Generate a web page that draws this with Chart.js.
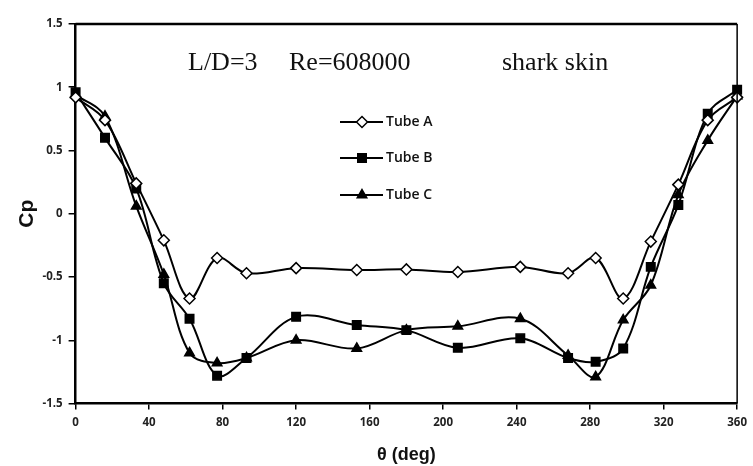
<!DOCTYPE html>
<html>
<head>
<meta charset="utf-8">
<script src="https://cdn.jsdelivr.net/npm/chart.js@4.4.1/dist/chart.umd.min.js"></script>
<style>
  body { margin: 0; background: #fff; }
</style>
</head>
<body>
<canvas id="cpChart" width="753" height="466"></canvas>
<script>
// pressure tap angles (deg) and Cp for each tube
const angles = [0, 16, 33, 48, 62, 77, 93, 120, 153, 180, 208, 242, 268, 283, 298, 313, 328, 344, 360];
const tubeA = [0.92, 0.74, 0.24, -0.21, -0.67, -0.35, -0.47, -0.43, -0.445, -0.44, -0.46, -0.42, -0.47, -0.35, -0.67, -0.22, 0.23, 0.74, 0.92];
const tubeB = [0.96, 0.60, 0.20, -0.55, -0.83, -1.28, -1.14, -0.815, -0.88, -0.92, -1.06, -0.985, -1.14, -1.17, -1.065, -0.42, 0.07, 0.79, 0.98];
const tubeC = [0.94, 0.77, 0.06, -0.48, -1.10, -1.18, -1.14, -1.0, -1.065, -0.92, -0.89, -0.83, -1.12, -1.29, -0.84, -0.565, 0.15, 0.58, 0.93];
const seriesNames = ['Tube A', 'Tube B', 'Tube C'];
const xTicks = [0, 40, 80, 120, 160, 200, 240, 280, 320, 360];
const yTicks = [-1.5, -1, -0.5, 0, 0.5, 1, 1.5];
const captions = ['L/D=3', 'Re=608000', 'shark skin'];

const toPoints = vals => vals.map((v, i) => ({x: angles[i], y: v}));

const makeSet = (label, vals, style, fill, radius) => ({
    label: label,
    data: toPoints(vals),
    borderColor: '#000',
    borderWidth: 2,
    tension: 0.35,
    pointStyle: style,
    pointRadius: radius,
    pointBackgroundColor: fill,
    pointBorderColor: '#000',
    pointBorderWidth: 1.5,
    clip: false
});

// legend drawn inside the plot, like the original
const innerLegend = {
    id: 'innerLegend',
    afterDatasetsDraw(chart) {
        const ctx = chart.ctx;
        const rows = [122, 158, 195];
        chart.data.datasets.forEach((ds, i) => {
            const y = rows[i];
            ctx.save();
            ctx.strokeStyle = '#000';
            ctx.lineWidth = 2;
            ctx.beginPath();
            ctx.moveTo(340, y);
            ctx.lineTo(383, y);
            ctx.stroke();
            ctx.fillStyle = ds.pointBackgroundColor;
            ctx.strokeStyle = '#000';
            ctx.lineWidth = 1.5;
            Chart.helpers.drawPoint(ctx, {pointStyle: ds.pointStyle, radius: ds.pointRadius, borderWidth: 1.5, rotation: 0}, 362, y);
            ctx.fillStyle = '#111';
            ctx.font = '600 14px "Open Sans"';
            ctx.textBaseline = 'middle';
            ctx.fillText(ds.label, 386, y);
            ctx.restore();
        });
    }
};

// caption row + top/right frame lines
const frameAndText = {
    id: 'frameAndText',
    afterDraw(chart) {
        const ctx = chart.ctx;
        const a = chart.chartArea;
        ctx.save();
        ctx.strokeStyle = '#000';
        ctx.lineWidth = 2.5;
        ctx.beginPath();
        ctx.moveTo(a.left, a.top);
        ctx.lineTo(a.right, a.top);
        ctx.stroke();
        ctx.lineWidth = 1.5;
        ctx.beginPath();
        ctx.moveTo(a.right, a.top);
        ctx.lineTo(a.right, a.bottom);
        ctx.stroke();
        ctx.fillStyle = '#111';
        ctx.font = '26px "Liberation Serif"';
        ctx.textBaseline = 'middle';
        const xs = [188, 289, 502];
        captions.forEach((t, i) => ctx.fillText(t, xs[i], 63));
        ctx.restore();
    }
};

const tickFont = {family: '"Open Sans"', size: 11.5, weight: 'bold'};

new Chart(document.getElementById('cpChart'), {
    type: 'line',
    data: {
        datasets: [
            makeSet(seriesNames[0], tubeA, 'rectRot', '#fff', 5.5),
            makeSet(seriesNames[1], tubeB, 'rect', '#000', 6),
            makeSet(seriesNames[2], tubeC, 'triangle', '#000', 5.5)
        ]
    },
    options: {
        responsive: false,
        animation: false,
        layout: {padding: {top: 24, right: 13, left: 0, bottom: 0}},
        plugins: {
            legend: {display: false},
            tooltip: {enabled: false}
        },
        scales: {
            x: {
                type: 'linear',
                min: 0,
                max: 360,
                afterBuildTicks: s => { s.ticks = xTicks.map(v => ({value: v})); },
                afterFit: s => { s.height = 62.5; },
                border: {color: '#000', width: 2.5},
                grid: {drawOnChartArea: false, drawTicks: true, tickLength: 6, color: '#000', lineWidth: 1.5},
                ticks: {color: '#222', font: tickFont, padding: 6, maxRotation: 0, callback: v => String(v)},
                title: {display: true, text: 'θ (deg)', color: '#111',
                        font: {family: '"Liberation Sans"', size: 18, weight: 'bold'}, padding: {top: 9, bottom: 0}}
            },
            y: {
                min: -1.5,
                max: 1.5,
                afterBuildTicks: s => { s.ticks = yTicks.map(v => ({value: v})); },
                afterFit: s => { s.width = 75.6; },
                border: {color: '#000', width: 2.5},
                grid: {drawOnChartArea: false, drawTicks: true, tickLength: 7, color: '#000', lineWidth: 1.5},
                ticks: {color: '#222', font: tickFont, padding: 6, callback: v => String(v)},
                title: {display: true, text: 'Cp', color: '#111',
                        font: {family: '"Liberation Sans"', size: 21, weight: 'bold'}, padding: {top: 15, bottom: 0}}
            }
        }
    },
    plugins: [innerLegend, frameAndText]
});
</script>
</body>
</html>
